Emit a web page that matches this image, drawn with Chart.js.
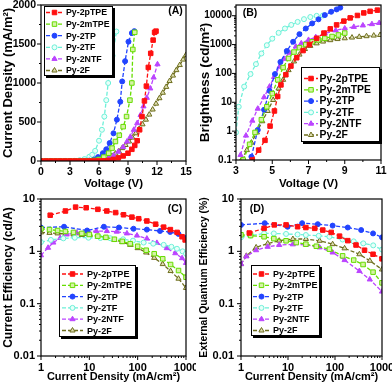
<!DOCTYPE html>
<html>
<head>
<meta charset="utf-8">
<script src="https://cdn.jsdelivr.net/npm/chart.js@4.4.1/dist/chart.umd.min.js"></script>
<style>
html, body { margin: 0; padding: 0; background: #fff; }
#wrap { position: relative; width: 392px; height: 387px; overflow: hidden; }
canvas { position: absolute; }
</style>
</head>
<body>
<div id="wrap">
  <canvas id="cA" width="196" height="194" style="left:0;top:0;width:196px;height:194px"></canvas>
  <canvas id="cB" width="196" height="194" style="left:196px;top:0;width:196px;height:194px"></canvas>
  <canvas id="cC" width="196" height="193" style="left:0;top:194px;width:196px;height:193px"></canvas>
  <canvas id="cD" width="196" height="193" style="left:196px;top:194px;width:196px;height:193px"></canvas>
</div>
<script>
const seriesNames = ['Py-2pTPE', 'Py-2mTPE', 'Py-2TP', 'Py-2TF', 'Py-2NTF', 'Py-2F'];

// (A) current density vs voltage
const vA_pTPE = [0, 0.5, 1, 1.5, 2, 2.5, 3, 3.5, 4, 4.5, 5, 5.5, 6, 6.5, 7, 7.5, 8, 8.5, 9, 9.4, 9.7, 9.95, 10.2, 10.45, 10.7, 10.9, 11.1, 11.35, 11.6, 11.75, 11.9];
const jA_pTPE = [0, 0, 0, 0, 0, 0, 0, 0, 0, 0, 0, 0, 1, 2, 8, 20, 40, 65, 100, 150, 200, 260, 400, 570, 770, 960, 1200, 1380, 1550, 1650, 1665];
const vA_mTPE = [0, 0.5, 1, 1.5, 2, 2.5, 3, 3.5, 4, 4.5, 5, 5.5, 6, 6.5, 7, 7.35, 7.7, 8.1, 8.5, 8.85, 9.2, 9.4, 9.5, 9.7];
const jA_mTPE = [0, 0, 0, 0, 0, 0, 0, 0, 0, 0, 1, 8, 20, 50, 100, 165, 250, 330, 440, 570, 780, 1000, 1430, 1650];
const vA_TP = [0, 0.5, 1, 1.5, 2, 2.5, 3, 3.5, 4, 4.5, 5, 5.5, 5.9, 6.4, 6.75, 7.1, 7.5, 7.85, 8.2, 8.4, 8.7, 9.05, 9.4, 9.65];
const jA_TP = [0, 0, 0, 0, 0, 0, 0, 0, 0, 1, 5, 20, 50, 100, 150, 230, 355, 530, 760, 1020, 1280, 1530, 1640, 1665];
const vA_TF = [0, 0.5, 1, 1.5, 2, 2.5, 3, 3.5, 4, 4.5, 5, 5.3, 5.6, 6.0, 6.3, 6.55, 6.75, 6.95, 7.4, 7.8];
const jA_TF = [0, 0, 0, 0, 0, 0, 0, 2, 10, 25, 55, 80, 130, 260, 400, 570, 780, 1000, 1350, 1660];
const vA_NTF = [0, 0.5, 1, 1.5, 2, 2.5, 3, 3.5, 4, 4.5, 5, 5.5, 6, 6.5, 7, 7.5, 8, 8.5, 8.9, 9.25, 9.6, 9.95, 10.3, 10.6, 10.95, 11.3, 11.65, 12.05];
const jA_NTF = [0, 0, 0, 0, 0, 0, 0, 0, 0, 0, 0, 1, 5, 15, 35, 70, 120, 180, 250, 310, 400, 485, 590, 700, 810, 930, 1070, 1240];
const vA_2F = [0, 0.5, 1, 1.5, 2, 2.5, 3, 3.5, 4, 4.5, 5, 5.5, 6, 6.5, 7, 7.35, 7.7, 8.05, 8.4, 8.75, 9.1, 9.45, 9.8, 10.15, 10.5, 10.85, 11.2, 11.55, 11.9, 12.25, 12.6, 12.95, 13.3, 13.65, 14.0, 14.35, 14.7, 15.0];
const jA_2F = [0, 0, 0, 0, 0, 0, 0, 0, 0, 0, 0, 1, 5, 15, 40, 65, 95, 125, 165, 205, 250, 300, 355, 410, 470, 530, 595, 660, 735, 805, 875, 950, 1025, 1095, 1165, 1230, 1300, 1360];

// (B) brightness vs voltage
const vB_pTPE = [3.9, 4.25, 4.6, 4.88, 5.12, 5.3, 5.48, 5.75, 6.03, 6.35, 6.7, 7.05, 7.45, 7.85, 8.2, 8.55, 8.95, 9.3, 9.7, 10.05, 10.4, 10.8];
const lB_pTPE = [0.1, 0.22, 0.48, 1.5, 5, 16, 40, 90, 180, 350, 620, 1000, 1650, 2500, 3500, 4800, 6500, 8400, 10200, 12500, 14200, 15600];
const vB_mTPE = [3.4, 3.75, 4.05, 4.4, 4.7, 5.0, 5.3, 5.6, 5.9, 6.2, 6.5, 6.85, 7.2, 7.55, 7.9, 8.3, 8.65, 9.0];
const lB_mTPE = [0.1, 0.35, 0.9, 2.5, 7, 20, 60, 160, 330, 550, 780, 1000, 1250, 1450, 1650, 1900, 2150, 2500];
const vB_TP = [3.85, 4.2, 4.55, 4.85, 5.15, 5.45, 5.8, 6.15, 6.5, 6.85, 7.2, 7.55, 7.9, 8.25, 8.55, 8.75];
const lB_TP = [0.13, 1.1, 5.5, 25, 95, 250, 600, 1250, 2300, 3600, 5400, 7500, 10500, 13700, 16500, 19000];
const vB_TF = [3.0, 3.15, 3.45, 3.8, 4.1, 4.4, 4.7, 5.0, 5.35, 5.7, 6.05, 6.4, 6.75, 7.1, 7.45, 7.8];
const lB_TF = [0.9, 7, 35, 95, 210, 490, 950, 1600, 2550, 3600, 4800, 6100, 7600, 9000, 9900, 10200];
const vB_NTF = [3.25, 3.55, 3.9, 4.2, 4.55, 4.85, 5.1, 5.4, 5.65, 5.95, 6.3, 6.6, 7.0, 7.4, 7.9, 8.5, 9.0, 9.5, 10.0, 10.5, 10.9];
const lB_NTF = [0.15, 0.7, 2.3, 6, 15, 35, 75, 170, 320, 520, 850, 1100, 1450, 1800, 2400, 3100, 3600, 4100, 4600, 5100, 5600];
const vB_2F = [3.3, 3.6, 3.85, 4.15, 4.45, 4.75, 5.05, 5.35, 5.6, 5.9, 6.2, 6.5, 6.8, 7.1, 7.45, 7.8, 8.2, 8.6, 9.0, 9.4, 9.8, 10.2, 10.6, 10.95];
const lB_2F = [0.1, 0.22, 0.4, 0.9, 2.2, 5, 12, 30, 60, 130, 260, 450, 700, 900, 1100, 1270, 1420, 1550, 1650, 1750, 1850, 1950, 2050, 2150];

// (C) current efficiency vs current density
const jC_pTPE = [1.55, 3.2, 5.2, 8.6, 15, 23, 35, 51, 76, 105, 155, 235, 345, 475, 655, 830, 960];
const ceC_pTPE = [4.9, 5.9, 7.0, 6.8, 6.35, 5.9, 5.5, 5.0, 4.5, 4.2, 3.8, 3.3, 2.9, 2.6, 2.3, 1.9, 1.65];
const jC_mTPE = [1, 1.5, 2.2, 3.2, 4.7, 7, 10, 15, 22, 33, 48, 70, 100, 150, 220, 330, 480, 700, 1000];
const ceC_mTPE = [2.7, 2.6, 2.5, 2.4, 2.3, 2.2, 2.1, 1.95, 1.85, 1.7, 1.55, 1.4, 1.25, 1.05, 0.9, 0.72, 0.56, 0.43, 0.32];
const jC_TP = [1, 3, 9, 20, 41, 82, 155, 290, 470, 700, 960];
const ceC_TP = [2.85, 2.95, 2.5, 2.95, 2.85, 2.7, 2.6, 2.45, 2.35, 2.15, 1.8];
const jC_TF = [1, 1.6, 2.9, 5, 9.6, 17, 27, 50, 80, 133, 210, 345, 500, 650, 850, 1000];
const ceC_TF = [1.5, 1.65, 1.77, 1.82, 1.82, 1.8, 1.78, 1.7, 1.6, 1.47, 1.4, 1.33, 1.22, 1.12, 1.0, 0.9];
const jC_NTF = [1, 1.4, 1.8, 2.5, 3.4, 5.5, 9, 14, 23, 37, 60, 97, 155, 250, 400, 600, 830, 1000];
const ceC_NTF = [0.84, 1.17, 1.47, 1.8, 2.1, 2.27, 2.38, 2.44, 2.44, 2.38, 2.2, 2.0, 1.75, 1.45, 1.15, 0.92, 0.74, 0.6];
const jC_2F = [1, 1.5, 2.2, 3.2, 4.7, 7, 10, 15, 22, 33, 48, 70, 100, 150, 220, 330, 480, 700, 1000];
const ceC_2F = [2.3, 2.25, 2.2, 2.15, 2.1, 2.05, 2.0, 1.9, 1.8, 1.65, 1.5, 1.33, 1.15, 0.95, 0.75, 0.57, 0.42, 0.3, 0.2];

// (D) external quantum efficiency vs current density
const jD_pTPE = [1.5, 3.1, 5.1, 9.1, 16, 24, 37, 55, 83, 125, 187, 280, 425, 645, 1000];
const eqeD_pTPE = [2.24, 2.75, 3.2, 3.2, 2.95, 2.85, 2.75, 2.55, 2.3, 1.95, 1.6, 1.32, 1.05, 0.88, 0.72];
const jD_mTPE = [1, 1.6, 3.1, 5, 9.1, 15, 24, 40, 76, 145, 250, 395, 645, 1000];
const eqeD_mTPE = [2.07, 2.0, 1.9, 1.75, 1.59, 1.47, 1.37, 1.25, 1.1, 0.82, 0.68, 0.56, 0.4, 0.25];
const jD_TP = [1, 3.2, 9.8, 20, 43, 89, 187, 360, 645, 1000];
const eqeD_TP = [3.2, 3.45, 2.95, 3.45, 3.3, 3.1, 2.85, 2.55, 2.2, 1.85];
const jD_TF = [1, 1.6, 3.1, 5, 9.1, 16, 24, 45, 76, 145, 250, 400, 650, 1000];
const eqeD_TF = [1.85, 2.0, 2.2, 2.2, 2.15, 2.1, 2.05, 1.98, 1.9, 1.68, 1.55, 1.42, 1.3, 1.08];
const jD_NTF = [1, 1.3, 2.1, 3.7, 6.5, 12.7, 24, 47, 89, 160, 330, 550, 1000];
const eqeD_NTF = [0.57, 0.8, 1.05, 1.22, 1.32, 1.36, 1.33, 1.19, 0.95, 0.68, 0.42, 0.29, 0.17];
const jD_2F = [1, 1.3, 2.1, 3.7, 6.5, 12.7, 24, 47, 89, 160, 330, 550, 1000];
const eqeD_2F = [0.57, 0.82, 1.19, 1.41, 1.6, 1.72, 1.72, 1.59, 1.37, 1.14, 0.88, 0.66, 0.45];

// axis ticks
const ticksA_x = [0, 3, 6, 9, 12, 15];
const minorA_x = [1.5, 4.5, 7.5, 10.5, 13.5];
const ticksA_y = [0, 500, 1000, 1500, 2000];
const minorA_y = [250, 750, 1250, 1750];
const ticksB_x = [3, 5, 7, 9, 11];
const minorB_x = [4, 6, 8, 10];
const ticksB_y = [0.1, 1, 10, 100, 1000, 10000];
const labelsB_y = ['0.1', '1', '10', '100', '1000', '10000'];
const ticksCD_x = [1, 10, 100, 1000];
const labelsCD_x = ['1', '10', '100', '1000'];
const ticksCD_y = [0.01, 0.1, 1, 10];
const labelsCD_y = ['0.01', '0.1', '1', '10'];

const lineColors = ['#ff1010', '#66dd00', '#2244ff', '#6cf0d8', '#bb44ff', '#6e6e1e'];
const markerFills = ['#ff1010', '#d6f2a6', '#2244ff', '#e8fff9', '#bb44ff', '#dedeb2'];
const markerShapes = ['rect', 'rect', 'circle', 'circle', 'triangle', 'triangle'];
const markerSizes = [3.2, 3.2, 2.5, 2.5, 3, 3];
const FONT = "'Liberation Sans', Arial, sans-serif";

function logMinors(lo, hi) {
    const out = [];
    for (let d = lo; d < hi; d *= 10) {
        for (let k = 2; k <= 9; k++) out.push(d * k);
    }
    return out;
}

function makeSets(xs, ys) {
    return seriesNames.map((name, i) => ({
        label: name,
        data: xs[i].map((x, k) => ({ x: x, y: ys[i][k] })),
        borderColor: lineColors[i],
        backgroundColor: markerFills[i],
        pointBorderColor: lineColors[i],
        pointBackgroundColor: markerFills[i],
        pointStyle: markerShapes[i],
        pointRadius: markerSizes[i],
        pointBorderWidth: 1,
        borderWidth: 1.3,
        borderDash: [4, 2],
        tension: 0,
        fill: false
    }));
}

const decoPlugin = {
    id: 'deco',
    afterDatasetsDraw(chart, args, o) {
        const ctx = chart.ctx;
        const a = chart.chartArea;
        const sx = chart.scales.x, sy = chart.scales.y;
        ctx.save();
        ctx.strokeStyle = '#000';
        ctx.lineWidth = 1.2;
        ctx.setLineDash([]);
        ctx.strokeRect(a.left, a.top, a.right - a.left, a.bottom - a.top);
        ctx.lineWidth = 1;
        ctx.beginPath();
        o.xMajor.forEach(v => { const p = sx.getPixelForValue(v); ctx.moveTo(p, a.bottom); ctx.lineTo(p, a.bottom + 4); });
        o.xMinor.forEach(v => { const p = sx.getPixelForValue(v); ctx.moveTo(p, a.bottom); ctx.lineTo(p, a.bottom + 2); });
        o.yMajor.forEach(v => { const p = sy.getPixelForValue(v); ctx.moveTo(a.left, p); ctx.lineTo(a.left - 4, p); });
        o.yMinor.forEach(v => { const p = sy.getPixelForValue(v); ctx.moveTo(a.left, p); ctx.lineTo(a.left - 2, p); });
        ctx.stroke();

        // panel letter
        ctx.fillStyle = '#000';
        ctx.font = 'bold 10.5px ' + FONT;
        ctx.textAlign = 'center';
        ctx.textBaseline = 'middle';
        ctx.fillText(o.letter.text, o.letter.x, o.letter.y);

        // legend
        const L = o.legend;
        ctx.fillStyle = '#000';
        ctx.fillRect(L.x + 2, L.y + 2, L.w, L.h);
        ctx.fillStyle = '#fff';
        ctx.fillRect(L.x, L.y, L.w, L.h);
        ctx.strokeStyle = '#000';
        ctx.lineWidth = 1;
        ctx.strokeRect(L.x + 0.5, L.y + 0.5, L.w - 1, L.h - 1);
        chart.data.datasets.forEach((ds, i) => {
            const y = L.row0 + i * L.step;
            ctx.strokeStyle = ds.borderColor;
            ctx.lineWidth = 1.3;
            ctx.setLineDash([4, 2]);
            ctx.beginPath();
            ctx.moveTo(L.x0, y);
            ctx.lineTo(L.x1, y);
            ctx.stroke();
            ctx.setLineDash([]);
            ctx.fillStyle = ds.pointBackgroundColor;
            ctx.strokeStyle = ds.pointBorderColor;
            ctx.lineWidth = 1;
            Chart.helpers.drawPoint(ctx, { pointStyle: ds.pointStyle, radius: ds.pointRadius, rotation: 0, borderWidth: 1 }, (L.x0 + L.x1) / 2, y);
            ctx.fillStyle = '#000';
            ctx.font = 'bold ' + L.font + 'px ' + FONT;
            ctx.textAlign = 'left';
            ctx.textBaseline = 'middle';
            ctx.fillText(ds.label, L.tx, y + 0.5);
        });
        ctx.restore();
    }
};

function axis(cfg) {
    return {
        type: cfg.type,
        min: cfg.min,
        max: cfg.max,
        grid: { display: false, drawTicks: false, tickLength: 0 },
        border: { display: false },
        ticks: {
            color: '#000',
            font: { family: FONT, size: cfg.tickSize, weight: 'bold' },
            padding: cfg.tickPad,
            autoSkip: false,
            maxRotation: 0,
            callback: (v) => {
                const k = cfg.ticks.indexOf(v);
                if (k < 0) return '';
                return cfg.labels ? cfg.labels[k] : String(v);
            }
        },
        title: {
            display: true,
            text: cfg.title,
            color: '#000',
            font: { family: FONT, size: cfg.titleSize, weight: 'bold' },
            padding: cfg.titlePad
        },
        afterBuildTicks: (s) => { s.ticks = cfg.ticks.map(v => ({ value: v })); },
        afterFit: (s) => {
            if (cfg.width !== undefined) s.width = cfg.width;
            if (cfg.height !== undefined) s.height = cfg.height;
            s.paddingTop = 0; s.paddingBottom = 0; s.paddingLeft = 0; s.paddingRight = 0;
        }
    };
}

function panel(id, sets, xAx, yAx, pad, deco) {
    return new Chart(document.getElementById(id), {
        type: 'line',
        data: { datasets: sets },
        options: {
            responsive: false,
            animation: false,
            events: [],
            layout: { padding: pad },
            plugins: { legend: { display: false }, tooltip: { enabled: false }, deco: deco },
            scales: { x: axis(xAx), y: axis(yAx) }
        },
        plugins: [decoPlugin]
    });
}

panel('cA',
    makeSets([vA_pTPE, vA_mTPE, vA_TP, vA_TF, vA_NTF, vA_2F], [jA_pTPE, jA_mTPE, jA_TP, jA_TF, jA_NTF, jA_2F]),
    { type: 'linear', min: 0, max: 15, ticks: ticksA_x, tickSize: 10.5, tickPad: 5, title: 'Voltage (V)', titleSize: 11.5, titlePad: { top: 0, bottom: 3 }, height: 33 },
    { type: 'linear', min: 0, max: 2000, ticks: ticksA_y, tickSize: 10.5, tickPad: 5, title: 'Current Density (mA/m\u00b2)', titleSize: 13, titlePad: { top: 1, bottom: 0 }, width: 41 },
    { left: 0, top: 5, right: 10, bottom: 0 },
    { xMajor: ticksA_x, xMinor: minorA_x, yMajor: ticksA_y, yMinor: minorA_y,
      letter: { text: '(A)', x: 175.5, y: 11.5 },
      legend: { x: 44, y: 6, w: 69, h: 70, row0: 12.5, step: 11.6, x0: 46, x1: 63, tx: 66, font: 8.8 } });

panel('cB',
    makeSets([vB_pTPE, vB_mTPE, vB_TP, vB_TF, vB_NTF, vB_2F], [lB_pTPE, lB_mTPE, lB_TP, lB_TF, lB_NTF, lB_2F]),
    { type: 'linear', min: 3, max: 11, ticks: ticksB_x, tickSize: 10.5, tickPad: 5, title: 'Voltage (V)', titleSize: 11.5, titlePad: { top: 0, bottom: 3 }, height: 34 },
    { type: 'logarithmic', min: 0.1, max: 23500, ticks: ticksB_y, labels: labelsB_y, tickSize: 10, tickPad: 4, title: 'Brightness (cd/m\u00b2)', titleSize: 13.5, titlePad: { top: 1, bottom: 0 }, width: 40 },
    { left: 0, top: 5, right: 11, bottom: 0 },
    { xMajor: ticksB_x, xMinor: minorB_x, yMajor: ticksB_y, yMinor: logMinors(0.1, 10000).concat([20000]),
      letter: { text: '(B)', x: 54, y: 13.5 },
      legend: { x: 105, y: 67, w: 79, h: 75, row0: 78.5, step: 11.3, x0: 108, x1: 122, tx: 123.5, font: 10.4 } });

panel('cC',
    makeSets([jC_pTPE, jC_mTPE, jC_TP, jC_TF, jC_NTF, jC_2F], [ceC_pTPE, ceC_mTPE, ceC_TP, ceC_TF, ceC_NTF, ceC_2F]),
    { type: 'logarithmic', min: 1, max: 1000, ticks: ticksCD_x, labels: labelsCD_x, tickSize: 11, tickPad: 5, title: 'Current Density (mA/cm\u00b2)', titleSize: 11, titlePad: { top: 0, bottom: 3 }, height: 31 },
    { type: 'logarithmic', min: 0.01, max: 10, ticks: ticksCD_y, labels: labelsCD_y, tickSize: 11, tickPad: 6, title: 'Current Efficiency (cd/A)', titleSize: 12, titlePad: { top: 1, bottom: 0 }, width: 41 },
    { left: 0, top: 5, right: 10, bottom: 0 },
    { xMajor: ticksCD_x, xMinor: logMinors(1, 1000), yMajor: ticksCD_y, yMinor: logMinors(0.01, 10),
      letter: { text: '(C)', x: 175, y: 15 },
      legend: { x: 59, y: 71, w: 77, h: 72, row0: 80, step: 11.3, x0: 62, x1: 83, tx: 87, font: 9.1 } });

panel('cD',
    makeSets([jD_pTPE, jD_mTPE, jD_TP, jD_TF, jD_NTF, jD_2F], [eqeD_pTPE, eqeD_mTPE, eqeD_TP, eqeD_TF, eqeD_NTF, eqeD_2F]),
    { type: 'logarithmic', min: 1, max: 1000, ticks: ticksCD_x, labels: labelsCD_x, tickSize: 11, tickPad: 5, title: 'Current Density (mA/cm\u00b2)', titleSize: 11, titlePad: { top: 0, bottom: 3 }, height: 31 },
    { type: 'logarithmic', min: 0.01, max: 10, ticks: ticksCD_y, labels: labelsCD_y, tickSize: 11, tickPad: 7, title: 'External Quantum Efficiency (%)', titleSize: 10.4, titlePad: { top: 2, bottom: 0 }, width: 45 },
    { left: 0, top: 5, right: 10, bottom: 0 },
    { xMajor: ticksCD_x, xMinor: logMinors(1, 1000), yMajor: ticksCD_y, yMinor: logMinors(0.01, 10),
      letter: { text: '(D)', x: 61, y: 15 },
      legend: { x: 55, y: 71, w: 69, h: 71, row0: 80, step: 11.3, x0: 57, x1: 74, tx: 77, font: 9 } });
</script>
</body>
</html>
